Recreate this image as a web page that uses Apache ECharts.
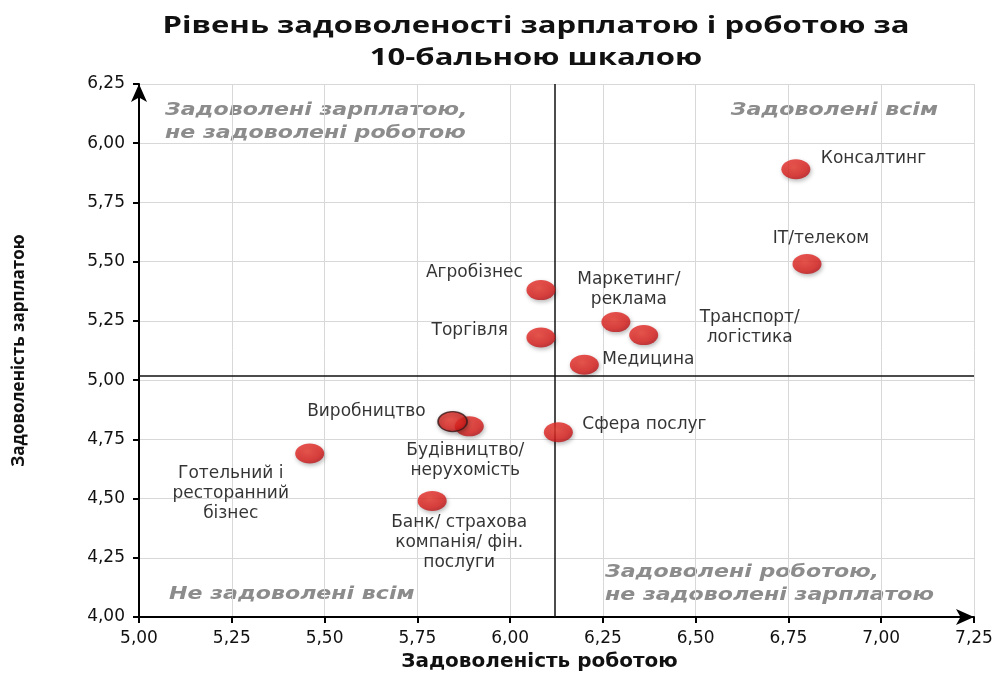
<!DOCTYPE html>
<html>
<head>
<meta charset="utf-8">
<script src="https://cdn.jsdelivr.net/npm/echarts@6/dist/echarts.min.js"></script>
<style>html,body{margin:0;padding:0;background:#fff;}#c{width:999px;height:675px;}</style>
</head>
<body>
<div id="c"></div>
<script>
// ---- data ----
var industries = ['Консалтинг','IT/телеком','Маркетинг/\nреклама','Транспорт/\nлогістика','Медицина','Агробізнес','Торгівля','Будівництво/\nнерухомість','Виробництво','Сфера послуг','Готельний і\nресторанний\nбізнес','Банк/ страхова\nкомпанія/ фін.\nпослуги'];
var jobSatisfaction = [6.77, 6.80, 6.285, 6.36, 6.20, 6.083, 6.083, 5.89, 5.845, 6.13, 5.46, 5.79];
var salarySatisfaction = [5.89, 5.49, 5.245, 5.19, 5.065, 5.38, 5.18, 4.805, 4.825, 4.78, 4.69, 4.49];
var meanJob = 6.12;
var meanSalary = 5.02;
var xTicks = [5.00, 5.25, 5.50, 5.75, 6.00, 6.25, 6.50, 6.75, 7.00, 7.25];
var yTicks = [4.00, 4.25, 4.50, 4.75, 5.00, 5.25, 5.50, 5.75, 6.00, 6.25];
var titleText = 'Рівень задоволеності зарплатою і роботою за\n10-бальною шкалою';
var xName = 'Задоволеність роботою';
var yName = 'Задоволеність зарплатою';
var quadrantTexts = ['Задоволені зарплатою,\nне задоволені роботою','Задоволені всім','Не задоволені всім','Задоволені роботою,\nне задоволені зарплатою'];

// ---- label layout (offsets from marker center, px) ----
var labelLayout = {
  'Консалтинг': {align:'left', offset:[25,-11]},
  'IT/телеком': {align:'center', offset:[14,-25]},
  'Маркетинг/\nреклама': {align:'center', offset:[13,-32]},
  'Транспорт/\nлогістика': {align:'center', offset:[106,-8]},
  'Медицина': {align:'left', offset:[18,-5]},
  'Агробізнес': {align:'right', offset:[-18,-18]},
  'Торгівля': {align:'right', offset:[-33,-7]},
  'Будівництво/\nнерухомість': {align:'center', offset:[-4,34]},
  'Виробництво': {align:'right', offset:[-27,-10]},
  'Сфера послуг': {align:'left', offset:[24,-8]},
  'Готельний і\nресторанний\nбізнес': {align:'center', offset:[-79,40]},
  'Банк/ страхова\nкомпанія/ фін.\nпослуги': {align:'center', offset:[27,42]}
};

function fmt(v){ return v.toFixed(2).replace('.', ','); }

var markerColor = {
  type:'radial', x:0.42, y:0.38, r:0.65,
  colorStops:[{offset:0,color:'#ee3a30'},{offset:0.7,color:'#dc1f1c'},{offset:1,color:'#b81218'}]
};

var data = industries.map(function(n,i){
  var lay = labelLayout[n];
  var d = {
    name:n,
    value:[jobSatisfaction[i], salarySatisfaction[i]],
    label:{align:lay.align, offset:lay.offset}
  };
  if (n === 'Виробництво') {
    d.itemStyle = {borderColor:'#3a1a1a', borderWidth:1.5};
  }
  return d;
});

var chart = echarts.init(document.getElementById('c'), null, {renderer:'canvas'});
var labelFont = "'DejaVu Sans', 'Open Sans', sans-serif";
var quadStyle = {fontFamily:labelFont, fontStyle:'italic', fontWeight:'bold', fontSize:17, lineHeight:23, fill:'#8c8c8c', textVerticalAlign:'top'};
function qs(t, align){ var s = {}; for (var k in quadStyle) s[k] = quadStyle[k]; s.text = t; s.textAlign = align; return s; }

chart.setOption({
  animation:false,
  backgroundColor:'#ffffff',
  grid:{left:139, right:25, top:84, bottom:58, containLabel:false, outerBoundsMode:'none'},
  xAxis:{
    type:'value', min:xTicks[0], max:xTicks[xTicks.length-1], interval:0.25,
    name:xName, nameLocation:'middle', nameGap:35,
    nameTextStyle:{fontFamily:labelFont, fontWeight:'bold', fontSize:20, color:'#111', padding:[0,34,0,0]},
    axisLine:{show:true, onZero:false, lineStyle:{color:'#000', width:2}, symbol:['none','arrow'], symbolSize:[12,18]},
    axisTick:{show:true, inside:false, length:6, lineStyle:{color:'#000', width:2}},
    axisLabel:{formatter:fmt, fontFamily:labelFont, fontSize:17, color:'#111', margin:13},
    splitLine:{show:true, lineStyle:{color:'#d8d8d8', width:1}}
  },
  yAxis:{
    type:'value', min:yTicks[0], max:yTicks[yTicks.length-1], interval:0.25,
    name:yName, nameLocation:'middle', nameGap:111, nameRotate:90,
    nameTextStyle:{fontFamily:"'Liberation Sans Narrow', 'Open Sans', sans-serif", fontWeight:'bold', fontSize:17, color:'#111'},
    axisLine:{show:true, onZero:false, lineStyle:{color:'#000', width:2}, symbol:['none','arrow'], symbolSize:[12,18]},
    axisTick:{show:true, inside:false, length:6, lineStyle:{color:'#000', width:2}},
    axisLabel:{formatter:fmt, fontFamily:labelFont, fontSize:17, color:'#111', margin:14},
    splitLine:{show:true, lineStyle:{color:'#d8d8d8', width:1}}
  },
  graphic:[
    {type:'text', x:536, y:10, scaleX:1.35, style:{text:titleText, fontFamily:"'Open Sans', sans-serif", fontWeight:'bold', fontSize:23, lineHeight:32, fill:'#111', textAlign:'center', textVerticalAlign:'top'}},
    {type:'text', x:165, y:99, scaleX:1.3, style:qs(quadrantTexts[0], 'left')},
    {type:'text', x:938, y:99, scaleX:1.3, style:qs(quadrantTexts[1], 'right')},
    {type:'text', x:169, y:583, scaleX:1.3, style:qs(quadrantTexts[2], 'left')},
    {type:'text', x:605, y:561, scaleX:1.3, style:qs(quadrantTexts[3], 'left')}
  ],
  series:[{
    type:'scatter',
    symbol:'circle',
    symbolSize:[29,20],
    data:data,
    itemStyle:{color:markerColor, shadowBlur:4, shadowColor:'rgba(0,0,0,0.35)', shadowOffsetX:1, shadowOffsetY:2},
    label:{
      show:true, position:'inside', verticalAlign:'middle',
      formatter:function(p){return p.name;},
      fontFamily:labelFont, fontSize:17, lineHeight:20, color:'#000'
    },
    markLine:{
      silent:true, symbol:['none','none'], label:{show:false},
      lineStyle:{color:'#111', width:1.5, type:'solid'},
      data:[{xAxis:meanJob},{yAxis:meanSalary}],
      z:1
    },
    z:5
  }]
});
</script>
</body>
</html>
